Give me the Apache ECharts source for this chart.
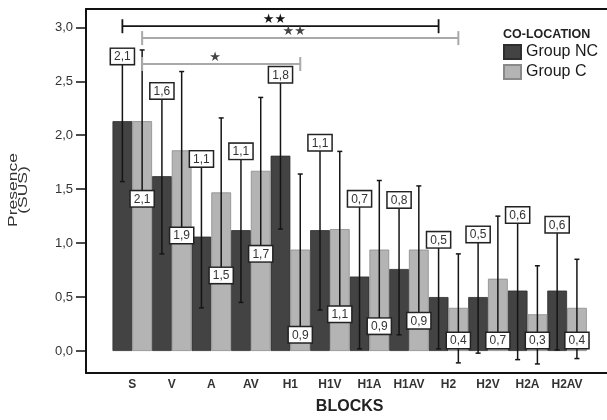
<!DOCTYPE html>
<html>
<head>
<meta charset="utf-8">
<script src="https://cdn.jsdelivr.net/npm/echarts@6/dist/echarts.min.js"></script>
<style>
  html, body { margin: 0; padding: 0; background: #fff; }
  #chart { width: 607px; height: 420px; }
</style>
</head>
<body>
<div id="chart"></div>
<script>
// blocks on the x axis
const blocks = ['S', 'V', 'A', 'AV', 'H1', 'H1V', 'H1A', 'H1AV', 'H2', 'H2V', 'H2A', 'H2AV']
const yTicks = [0, 0.5, 1.0, 1.5, 2.0, 2.5, 3.0]

// group NC (not co-located)
const ncMean = [2.13, 1.62, 1.06, 1.12, 1.81, 1.12, 0.69, 0.76, 0.50, 0.50, 0.56, 0.56]
const ncLow = [1.57, 0.90, 0.40, 0.45, 1.13, 0.38, 0.02, 0.15, 0.02, -0.02, -0.08, 0.01]
const ncHigh = [2.67, 2.35, 1.72, 1.79, 2.50, 1.87, 1.35, 1.34, 0.97, 1.02, 1.20, 1.11]

// group C (co-located)
const cMean = [2.13, 1.86, 1.47, 1.67, 0.94, 1.13, 0.94, 0.94, 0.40, 0.67, 0.34, 0.40]
const cLow = [1.48, 1.14, 0.77, 0.97, 0.22, 0.41, 0.30, 0.35, -0.11, 0.09, -0.12, -0.07]
const cHigh = [2.79, 2.59, 2.16, 2.35, 1.64, 1.85, 1.58, 1.53, 0.90, 1.25, 0.79, 0.85]

// significance brackets: group 0 = NC, 1 = C
const brackets = [
  { group: 0, from: 0, to: 8, y: 3.01, mark: '★★' },
  { group: 1, from: 0, to: 8, y: 2.90, mark: '★★' },
  { group: 1, from: 0, to: 4, y: 2.66, mark: '★' }
]

const font = 'Liberation Sans, Arial, sans-serif'
const fmt = v => v.toFixed(1).replace('.', ',')

function errorSeries(name, mean, low, high, side) {
  return {
    type: 'custom',
    name: name,
    z: 5,
    encode: { x: 0, y: [1, 2] },
    data: blocks.map((b, i) => [i, low[i], high[i], mean[i]]),
    renderItem(params, api) {
      const band = api.size([1, 0])[0]
      const x = api.coord([api.value(0), 0])[0] + side * band / 4
      const yLow = api.coord([0, api.value(1)])[1]
      const yHigh = api.coord([0, api.value(2)])[1]
      const y0 = api.coord([0, 0])[1]
      const stroke = { stroke: '#151515', lineWidth: 1.5 }
      let label
      if (side < 0) {
        label = { y: yHigh + 1, verticalAlign: 'bottom' }
      } else {
        label = { y: Math.min(yLow, y0 - 18), verticalAlign: 'top' }
      }
      return {
        type: 'group',
        children: [
          { type: 'line', shape: { x1: x, y1: yLow, x2: x, y2: yHigh }, style: stroke },
          { type: 'line', shape: { x1: x - 2.5, y1: yLow, x2: x + 2.5, y2: yLow }, style: stroke },
          { type: 'line', shape: { x1: x - 2.5, y1: yHigh, x2: x + 2.5, y2: yHigh }, style: stroke },
          {
            type: 'text',
            z2: 10,
            style: {
              text: fmt(api.value(3)),
              x: x,
              y: label.y,
              align: 'center',
              verticalAlign: label.verticalAlign,
              fontSize: 12,
              fontFamily: font,
              fill: '#333',
              backgroundColor: '#fff',
              borderColor: '#222',
              borderWidth: 1.5,
              padding: [2, 3, 1, 3]
            }
          }
        ]
      }
    }
  }
}

// frame lines (left, top, bottom) drawn by axis lines of a second grid
const frameLine = { show: true, lineStyle: { color: '#111', width: 2 } }

const options = {
  animation: false,
  backgroundColor: '#fff',
  textStyle: { fontFamily: font },
  title: {
    text: 'CO-LOCATION',
    left: 503,
    top: 28,
    padding: 0,
    textStyle: { fontSize: 12.5, fontWeight: 'bold', color: '#222', fontFamily: font }
  },
  legend: {
    data: ['Group NC', 'Group C'],
    orient: 'vertical',
    left: 503,
    top: 44,
    padding: 0,
    itemWidth: 17,
    itemHeight: 14,
    itemGap: 4,
    icon: 'rect',
    textStyle: { fontSize: 16, color: '#1a1a1a', fontFamily: font }
  },
  graphic: [
    {
      type: 'text',
      x: 19,
      y: 190,
      rotation: Math.PI / 2,
      scaleX: 1.4,
      style: {
        text: 'Presence\n(SUS)',
        align: 'center',
        verticalAlign: 'middle',
        fontSize: 12.5,
        lineHeight: 10,
        fontFamily: font,
        fill: '#333'
      }
    }
  ],
  grid: [
    { left: 112.5, right: 20.2, top: 27.3, bottom: 66 },
    { left: 86, right: 0, top: 9, bottom: 47 }
  ],
  xAxis: [
    {
      type: 'category',
      data: blocks,
      gridIndex: 0,
      offset: 19,
      axisLine: { show: false },
      axisTick: { interval: 0, alignWithLabel: true, length: 5, lineStyle: { color: '#111', width: 1.5 } },
      axisLabel: { interval: 0, margin: 9, fontSize: 12, fontWeight: 'bold', color: '#333', fontFamily: font },
      name: 'BLOCKS',
      nameLocation: 'middle',
      nameGap: 29,
      nameTextStyle: { fontSize: 16, fontWeight: 'bold', color: '#222', fontFamily: font }
    },
    {
      type: 'value', gridIndex: 1, position: 'bottom',
      axisLine: frameLine, axisTick: { show: false }, axisLabel: { show: false }, splitLine: { show: false }
    },
    {
      type: 'value', gridIndex: 1, position: 'top',
      axisLine: frameLine, axisTick: { show: false }, axisLabel: { show: false }, splitLine: { show: false }
    }
  ],
  yAxis: [
    {
      type: 'value',
      gridIndex: 0,
      min: yTicks[0],
      max: yTicks[yTicks.length - 1],
      interval: 0.5,
      offset: 26.5,
      axisLine: { show: false },
      splitLine: { show: false },
      axisTick: { show: true, length: 10, lineStyle: { color: '#111', width: 1.5 } },
      axisLabel: { margin: 13, fontSize: 13, color: '#333', fontFamily: font, formatter: fmt }
    },
    {
      type: 'value', gridIndex: 1, position: 'left',
      axisLine: frameLine, axisTick: { show: false }, axisLabel: { show: false }, splitLine: { show: false }
    }
  ],
  series: [
    {
      name: 'Group NC',
      type: 'bar',
      data: ncMean,
      barGap: '0%',
      barCategoryGap: '0%',
      itemStyle: { color: '#434343', borderColor: '#2e2e2e', borderWidth: 0.8 }
    },
    {
      name: 'Group C',
      type: 'bar',
      data: cMean,
      itemStyle: { color: '#b4b4b4', borderColor: '#8a8a8a', borderWidth: 0.8 }
    },
    errorSeries('err NC', ncMean, ncLow, ncHigh, -1),
    errorSeries('err C', cMean, cLow, cHigh, 1),
    {
      type: 'custom',
      name: 'brackets',
      z: 6,
      encode: { x: [0, 1], y: 2 },
      data: brackets.map(b => [b.from, b.to, b.y, b.group]),
      renderItem(params, api) {
        const b = brackets[params.dataIndex]
        const band = api.size([1, 0])[0]
        const shift = (api.value(3) ? 1 : -1) * band / 4
        const x1 = api.coord([api.value(0), 0])[0] + shift
        const x2 = api.coord([api.value(1), 0])[0] + shift
        const y = api.coord([0, api.value(2)])[1]
        const color = api.value(3) ? '#a9a9a9' : '#151515'
        const stroke = { stroke: color, lineWidth: api.value(3) ? 2 : 1.8 }
        return {
          type: 'group',
          children: [
            { type: 'line', shape: { x1: x1, y1: y, x2: x2, y2: y }, style: stroke },
            { type: 'line', shape: { x1: x1, y1: y - 7, x2: x1, y2: y + 7 }, style: stroke },
            { type: 'line', shape: { x1: x2, y1: y - 7, x2: x2, y2: y + 7 }, style: stroke },
            {
              type: 'text',
              style: {
                text: b.mark,
                x: (x1 + x2) / 2 - 6,
                y: y,
                align: 'center',
                verticalAlign: 'bottom',
                fontSize: 13,
                fontFamily: 'DejaVu Sans',
                fill: api.value(3) ? '#444' : '#151515'
              }
            }
          ]
        }
      }
    }
  ]
}

const chart = echarts.init(document.getElementById('chart'))
chart.setOption(options)
</script>
</body>
</html>
